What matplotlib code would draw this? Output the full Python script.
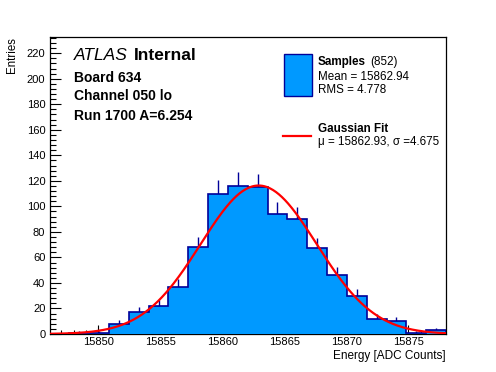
import numpy as np
import matplotlib
matplotlib.use("Agg")
import matplotlib.pyplot as plt
from matplotlib.patches import Rectangle
from matplotlib.lines import Line2D

plt.rcParams['font.family'] = ['Liberation Sans', 'DejaVu Sans']

# Дані гістограми
x_lo = 15846.05
bin_width = 1.6
counts = [0, 1, 1, 8, 17, 22, 37, 68, 110, 116, 115, 94, 90, 67, 46, 30, 12, 10, 1, 3]
fit_mu = 15862.93
fit_sigma = 4.675
n_entries = 852
mean_val = 15862.94
rms_val = 4.778

counts = np.array(counts, dtype=float)
edges = x_lo + bin_width * np.arange(len(counts) + 1)
centers = 0.5 * (edges[:-1] + edges[1:])

W, H = 496, 372
fig = plt.figure(figsize=(W / 100, H / 100), dpi=100)

def fx(px):
    return px / W

def fy(py):
    return 1 - py / H

ax = fig.add_axes([fx(49.5), fy(334), fx(446) - fx(49.5), fy(37) - fy(334)])

fill_col = "#0099ff"
line_col = "#000099"

# Похибки (видно лише верхню частину)
err = np.sqrt(counts)
mask = counts > 0
ax.vlines(centers[mask], counts[mask], counts[mask] + err[mask], color=line_col, lw=1.0, zorder=2)
ax.stairs(counts, edges, fill=True, color=fill_col, zorder=3)
ax.stairs(counts, edges, color=line_col, lw=1.2, zorder=4)

# Гаусова апроксимація
amp = n_entries * bin_width / (fit_sigma * np.sqrt(2 * np.pi))
xs = np.linspace(edges[0], edges[-1], 400)
ax.plot(xs, amp * np.exp(-0.5 * ((xs - fit_mu) / fit_sigma) ** 2), color="red", lw=1.6, zorder=5)

ax.set_xlim(edges[0], edges[-1])
ax.set_ylim(0, 232.7)
ax.set_xticks(np.arange(15850, 15880, 5))
ax.set_xticks(np.arange(15847, 15879, 1), minor=True)
ax.set_yticks(np.arange(0, 221, 20))
ax.set_yticks(np.arange(0, 233, 4), minor=True)
ax.tick_params(which="both", direction="in", labelsize=8, width=0.8)
ax.tick_params(axis="x", which="major", length=6.5, pad=2.5)
ax.tick_params(axis="x", which="minor", length=3.2)
ax.tick_params(axis="y", which="major", length=8, pad=3)
ax.tick_params(axis="y", which="minor", length=4)
for s in ax.spines.values():
    s.set_linewidth(0.9)

fig.text(fx(446), fy(356), "Energy [ADC Counts]", ha="right", va="center", fontsize=8.5)
fig.text(fx(12), fy(37), "Entries", rotation=90, ha="center", va="top", fontsize=8.3)

# Підписи ATLAS
fig.text(fx(74), fy(56), "ATLAS", style="italic", fontsize=12.5, va="center")
fig.text(fx(134), fy(56), "Internal", weight="bold", fontsize=12.5, va="center")
fig.text(fx(74), fy(77.5), "Board 634", weight="bold", fontsize=10, va="center")
fig.text(fx(74), fy(96.5), "Channel 050 lo", weight="bold", fontsize=10, va="center")
fig.text(fx(74), fy(116), "Run 1700 A=6.254", weight="bold", fontsize=10, va="center")

# Легенда
fig.patches.append(Rectangle((fx(283.5), fy(96)), fx(311.5) - fx(283.5), fy(53.5) - fy(96),
                             transform=fig.transFigure, facecolor=fill_col, edgecolor=line_col, lw=1.0))
fig.text(fx(317.5), fy(61.5), "Samples", weight="bold", fontsize=8.4, va="center")
fig.text(fx(370), fy(61.5), "(852)", fontsize=8.4, va="center")
fig.text(fx(317.5), fy(76.5), f"Mean = {mean_val:.2f}", fontsize=8.4, va="center")
fig.text(fx(317.5), fy(90), f"RMS = {rms_val:.3f}", fontsize=8.4, va="center")
fig.lines.append(Line2D([fx(283), fx(311)], [fy(136), fy(136)], transform=fig.transFigure, color="red", lw=1.6))
fig.text(fx(317.5), fy(129), "Gaussian Fit", weight="bold", fontsize=8.4, va="center")
fig.text(fx(317.5), fy(142), f"\u03bc = {fit_mu:.2f}, \u03c3 ={fit_sigma:.3f}", fontsize=8.4, va="center")

fig.savefig("out.png", dpi=100)
